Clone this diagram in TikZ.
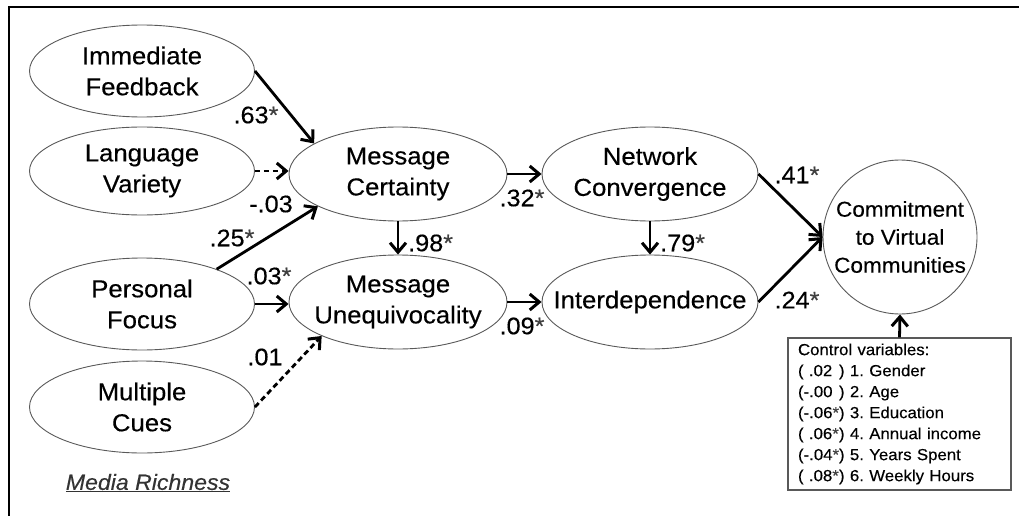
\documentclass[tikz,border=0pt]{standalone}
\usepackage{fontspec}
\setmainfont{Liberation Sans}[FakeStretch=1.05,FakeBold=0.3]
\usetikzlibrary{arrows.meta,shapes.geometric}
\frenchspacing
\newcommand\sig{\textcolor{black!75}{*}}
\newcommand\cvrow[2]{\makebox[41pt][l]{(#1})~#2}
\begin{document}
\begin{tikzpicture}[x=1pt,y=-1pt,
  latent/.style={ellipse, draw=black!65, line width=0.9pt,
    inner xsep=-40pt, inner ysep=-20pt,
    align=center, font=\fontsize{24.5}{31}\selectfont,
    minimum width=225pt, minimum height=92pt},
  midlat/.style={latent, minimum width=218pt, minimum height=94pt},
  outcome/.style={circle, draw=black!65, line width=0.9pt, inner sep=-10pt,
    align=center, font=\fontsize{21.5}{28}\selectfont, minimum size=154pt},
  ctrlbox/.style={rectangle, draw=black!65, line width=1.1pt, align=left,
    text width=203pt, inner xsep=10pt, inner ysep=0pt,
    minimum width=223pt, minimum height=152pt,
    font=\fontsize{16}{21}\selectfont},
  coef/.style={inner sep=0pt, font=\fontsize{24}{26}\selectfont},
  path/.style={line width=2.8pt, -{Straight Barb[length=9.5pt,width=16pt,line width=3pt]}},
  weak/.style={path, dash pattern=on 5.5pt off 3.5pt},
]
\useasboundingbox (0,0) rectangle (1019,516);

% frame along the top and left edges
\draw[line width=2.4pt] (9,516) -- (9,7) -- (1019,7);

% media richness constructs
\node[latent] (IF) at (142,71)  {Immediate\\Feedback};
\node[latent, minimum height=88pt] (LV) at (142,171) {Language\\Variety};
\node[latent] (PF) at (142,304) {Personal\\Focus};
\node[latent] (MQ) at (142,407) {Multiple\\Cues};
\node[font=\fontsize{22}{25}\selectfont\itshape, text=black!80] (MR) at (148,483) {\underline{Media Richness}};

% message and network constructs
\node[midlat] (MC) at (398,174) {Message\\Certainty};
\node[midlat] (MU) at (398,302) {Message\\Unequivocality};
\node[midlat, minimum width=216pt] (NC) at (650,174) {Network\\Convergence};
\node[midlat, minimum width=216pt] (ID) at (650,302) {Interdependence};

% outcome and controls
\node[outcome] (CV) at (900,237) {Commitment\\to Virtual\\Communities};
\node[ctrlbox] (CT) at (899.5,414) {Control variables:\\
  \cvrow{\ .02}{1. Gender}\\
  \cvrow{-.00}{2. Age}\\
  \cvrow{-.06\sig}{3. Education}\\
  \cvrow{\ .06\sig}{4. Annual income}\\
  \cvrow{-.04\sig}{5. Years Spent}\\
  \cvrow{\ .08\sig}{6. Weekly Hours}};

% structural paths
\draw[path] (IF.east) -- (MC.160);
\draw[weak] (LV.east) -- (LV.east -| MC.west);
\draw[path] (PF.25) -- (MC.202);
\draw[path] (PF.east) -- (PF.east -| MU.west);
\draw[weak] (MQ.east) -- (MU.204);
\draw[path] (MC.south) -- (MU.north);
\draw[path] (MC.east) -- (NC.west);
\draw[path] (MU.east) -- (ID.west);
\draw[path] (NC.south) -- (ID.north);
\draw[path] (NC.east) -- (CV.west);
\draw[path] (ID.east) -- (CV.west);
\draw[path] (CT.north) -- (CV.south);

% path coefficients
\node[coef] (c1) at (256,115) {.63\sig};
\node[coef] (c2) at (271,204) {-.03};
\node[coef] (c3) at (232,238) {.25\sig};
\node[coef] (c4) at (269,276) {.03\sig};
\node[coef] (c5) at (265,357) {.01};
\node[coef, anchor=west] (c6) at (408,243) {.98\sig};
\node[coef] (c7) at (522,198) {.32\sig};
\node[coef] (c8) at (522,326) {.09\sig};
\node[coef, anchor=west] (c9) at (660,243) {.79\sig};
\node[coef] (c10) at (797,175) {.41\sig};
\node[coef] (c11) at (797,300) {.24\sig};
\end{tikzpicture}
\end{document}
